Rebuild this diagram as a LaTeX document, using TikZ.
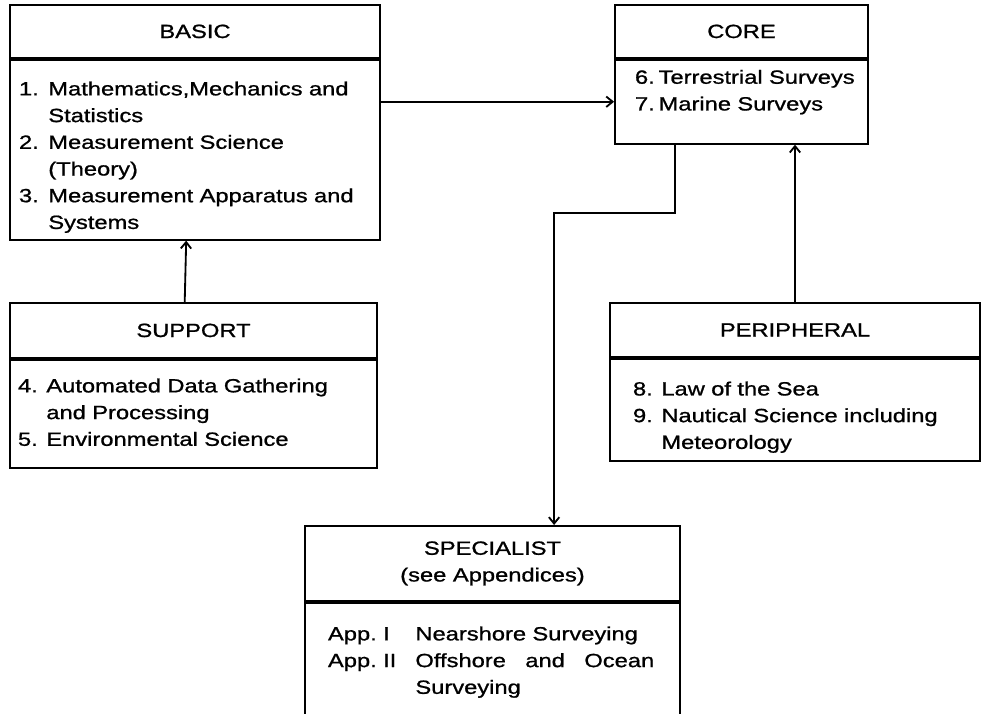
\documentclass[tikz,border=0pt]{standalone}
\usepackage{fontspec}
\setmainfont{Liberation Sans}[FakeStretch=1.24, FakeBold=1]
\usetikzlibrary{positioning,arrows.meta}
\setlength\parindent{0pt}

\begin{document}
\begin{tikzpicture}[
  every node/.style={font=\fontsize{13.6}{19}\selectfont},
  head/.style={draw, align=center, anchor=north, inner sep=0pt},
  body/.style={draw, align=left, inner ysep=0pt},
  >={Straight Barb[length=1.6mm,width=2.6mm]},
  line width=1.3pt
]
\useasboundingbox (0,0) rectangle (24.6,-17.825);
\clip (0,0) rectangle (24.6,-17.825);

% upper row
\node[head, minimum width=9.25cm, minimum height=1.325cm] (basic) at (4.875,-0.1) {BASIC};
\node[body, minimum height=4.5cm, inner xsep=0.225cm, text width=8.8cm, below=0pt of basic] (basicbody)
  {\begin{tabular}{@{}l@{\hspace{0.5em}}l@{}}
   \rule{0pt}{0.82cm}1. & Mathematics,Mechanics and\\
      & Statistics\\
   2. & Measurement Science\\
      & (Theory)\\
   3. & Measurement Apparatus and\\
      & Systems
   \end{tabular}};

\node[head, minimum width=6.325cm, minimum height=1.325cm] (core) at (18.5375,-0.1) {CORE};
\node[body, minimum height=2.1cm, inner xsep=0.5cm, text width=5.325cm, below=0pt of core] (corebody)
  {\begin{tabular}{@{}l@{\hspace{0.2em}}l@{}}
   6. & Terrestrial Surveys\\
   7. & Marine Surveys\\[0.5cm]
   \end{tabular}};

% middle row
\node[head, minimum width=9.175cm, minimum height=1.375cm] (support) at (4.8375,-7.55) {SUPPORT};
\node[body, minimum height=2.7cm, inner xsep=0.2cm, text width=8.775cm, below=0pt of support] (supportbody)
  {\begin{tabular}{@{}l@{\hspace{0.45em}}l@{}}
   4. & Automated Data Gathering\\
      & and Processing\\
   5. & Environmental Science
   \end{tabular}};

\node[head, minimum width=9.25cm, minimum height=1.35cm] (peripheral) at (19.875,-7.55) {PERIPHERAL};
\node[body, minimum height=2.55cm, inner xsep=0.575cm, text width=8.1cm, below=0pt of peripheral] (peripheralbody)
  {\begin{tabular}{@{}l@{\hspace{0.45em}}l@{}}
   \rule{0pt}{0.82cm}8. & Law of the Sea\\
   9. & Nautical Science including\\
      & Meteorology
   \end{tabular}};

% bottom
\node[head, minimum width=9.375cm, minimum height=1.875cm] (specialist) at (12.3125,-13.125) {SPECIALIST\\(see Appendices)};
\node[body, minimum height=2.95cm, inner xsep=0.575cm, text width=8.225cm, below=0pt of specialist] (specialistbody)
  {\begin{tabular}{@{}l@{\hspace{1em}}l@{}}
   App.\ I  & Nearshore Surveying\\
   App.\ II & \makebox[5.97cm][s]{Offshore\hfill and\hfill Ocean}\\
            & Surveying
   \end{tabular}};

\draw[->] (basicbody.east |- corebody.west) -- (corebody.west);
\draw[->] ([xshift=-0.22cm]support.north) -- ([xshift=-0.22cm]basicbody.south);
\draw[->] (peripheral.north) -- (peripheral.north |- corebody.south);
\draw[->] ([xshift=-1.66cm]corebody.south) -- ++(0,-1.7) -| ([xshift=1.54cm]specialist.north);
\end{tikzpicture}
\end{document}
